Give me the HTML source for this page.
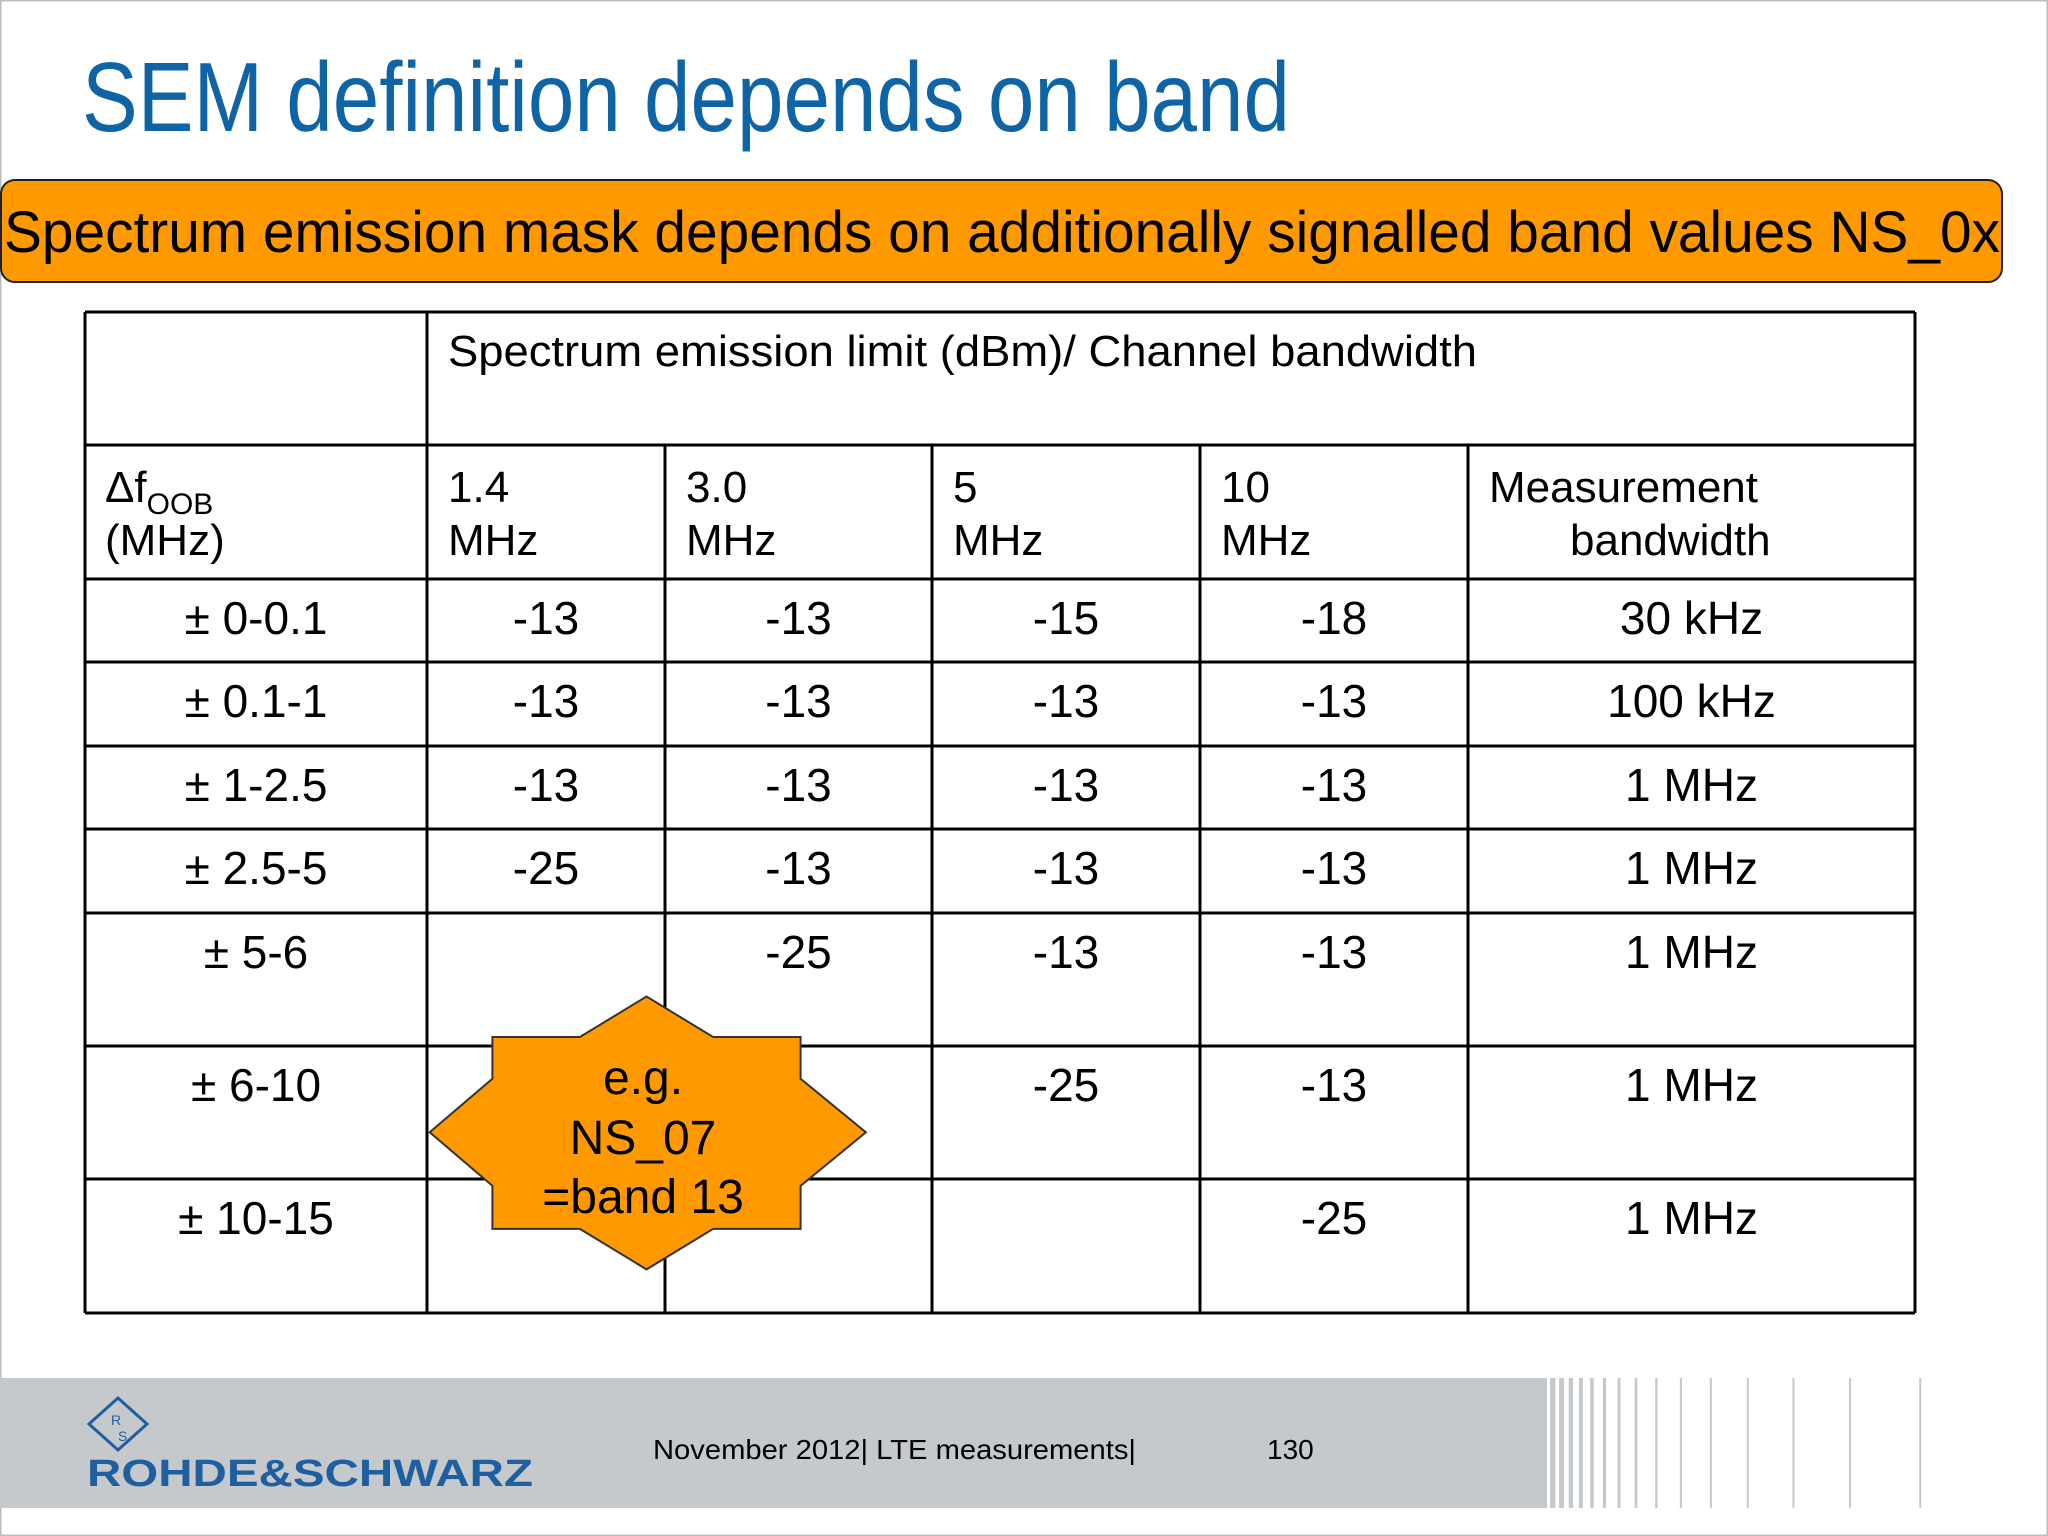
<!DOCTYPE html>
<html><head><meta charset="utf-8"><style>
html,body{margin:0;padding:0;background:#fff}
svg{display:block}
text{font-family:"Liberation Sans",Arial,sans-serif}
</style></head><body>
<svg id="s" width="2048" height="1536" viewBox="0 0 2048 1536" xmlns="http://www.w3.org/2000/svg">
<rect x="0.5" y="0.5" width="2047" height="1535" fill="#fff" stroke="#b8bcbf" stroke-width="2"/>
<text x="82" y="131" font-size="98" fill="#0f64a6" textLength="1208" lengthAdjust="spacingAndGlyphs">SEM definition depends on band</text>
<rect x="1" y="180" width="2001" height="102" rx="14" fill="#ff9900" stroke="#222" stroke-width="2"/>
<text x="4" y="252" font-size="58" fill="#000" textLength="1996" lengthAdjust="spacingAndGlyphs">Spectrum emission mask depends on additionally signalled band values NS_0x</text>
<g id="tbl"></g>
<g id="star"></g>
<rect x="0" y="1378" width="1541" height="130" fill="#c5c9cc"/>
<g id="stripes"></g>
<g>
<polygon points="118,1398 147,1424 118,1450 89,1424" fill="none" stroke="#1f5fa0" stroke-width="3"/>
<text x="111" y="1425" font-size="14" fill="#1f5fa0">R</text>
<text x="118" y="1441" font-size="14" fill="#1f5fa0">S</text>
<text x="87" y="1486" font-size="38" font-weight="bold" fill="#1f5fa0" textLength="446" lengthAdjust="spacingAndGlyphs">ROHDE&amp;SCHWARZ</text>
</g>
<text x="653" y="1459" font-size="28" fill="#000" textLength="483" lengthAdjust="spacingAndGlyphs">November 2012| LTE measurements|</text>
<text x="1267" y="1459" font-size="28" fill="#000">130</text>
</svg>
<script>
const offsets=["± 0-0.1","± 0.1-1","± 1-2.5","± 2.5-5","± 5-6","± 6-10","± 10-15"];
const bw14=["-13","-13","-13","-25","","",""];
const bw30=["-13","-13","-13","-13","-25","",""];
const bw5=["-15","-13","-13","-13","-13","-25",""];
const bw10=["-18","-13","-13","-13","-13","-13","-25"];
const measBw=["30 kHz","100 kHz","1 MHz","1 MHz","1 MHz","1 MHz","1 MHz"];
const NS="http://www.w3.org/2000/svg";
const cols=[85,427,665,932,1200,1468,1915];
const rows=[312,445,579,662,746,829,913,1046,1179,1313];
const g=document.getElementById('tbl');
function T(x,y,s,anchor,name,size){const t=document.createElementNS(NS,'text');t.setAttribute('x',x);t.setAttribute('y',y);t.setAttribute('font-size',size||46);t.setAttribute('text-anchor',anchor||'start');t.textContent=s;


g.appendChild(t);return t;}
function L(x1,y1,x2,y2){const l=document.createElementNS(NS,'line');l.setAttribute('x1',x1);l.setAttribute('y1',y1);l.setAttribute('x2',x2);l.setAttribute('y2',y2);l.setAttribute('stroke','#000');l.setAttribute('stroke-width',3);


g.appendChild(l);}
// horizontal rules
rows.forEach(y=>L(cols[0],y,cols[6],y));
L(cols[0],rows[0],cols[0],rows[9]);L(cols[1],rows[0],cols[1],rows[9]);L(cols[6],rows[0],cols[6],rows[9]);
for(let i=2;i<6;i++)L(cols[i],rows[1],cols[i],rows[9]);
const h=T(448,366,"Spectrum emission limit (dBm)/ Channel bandwidth",'start','header-title',44);h.setAttribute('textLength',1029);h.setAttribute('lengthAdjust','spacingAndGlyphs');
const d=T(105,502,"Δf",'start','offset-header',44);
const sub=document.createElementNS(NS,'tspan');sub.setAttribute('font-size',30);sub.setAttribute('dy',12);sub.textContent="OOB";d.appendChild(sub);
T(105,555,"(MHz)",'start','offset-header-unit',44);
const heads=[["1.4","MHz"],["3.0","MHz"],["5","MHz"],["10","MHz"]];
heads.forEach((hh,i)=>{T(cols[i+1]+21,502,hh[0],'start','bw-header',44);T(cols[i+1]+21,555,hh[1],'start','bw-header',44);});
T(1489,502,"Measurement",'start','meas-header',44);T(1570,555,"bandwidth",'start','meas-header',44);
const series=[bw14,bw30,bw5,bw10];
offsets.forEach((o,r)=>{const y=rows[r+2]+55;
T((cols[0]+cols[1])/2,y,o,'middle','offset-cell');
series.forEach((s,c)=>{if(s[r])T((cols[c+1]+cols[c+2])/2,y,s[r],'middle','limit-cell');});
T((cols[5]+cols[6])/2,y,measBw[r],'middle','meas-bw-cell');});
// starburst
const sg=document.getElementById('star');
const pts=[[495,763],[546,794],[613,794],[613,826],[663,867],[613,908],[613,941],[546,941],[495,972],[444,941],[377,941],[377,908],[329,867],[377,826],[377,794],[444,794]];
const p=document.createElementNS(NS,'polygon');p.setAttribute('points',pts.map(q=>(q[0]*1.306).toFixed(1)+','+(q[1]*1.306).toFixed(1)).join(' '));p.setAttribute('fill','#ff9900');p.setAttribute('stroke','#333');p.setAttribute('stroke-width',2);


sg.appendChild(p);
[["e.g.",1094],["NS_07",1154],["=band 13",1213]].forEach(a=>{const t=document.createElementNS(NS,'text');t.setAttribute('x',643);t.setAttribute('y',a[1]);t.setAttribute('font-size',48);t.setAttribute('text-anchor','middle');t.textContent=a[0];


sg.appendChild(t);});
// footer stripes
const st=document.getElementById('stripes');
let x=1541,w=6,gap=3;
while(x<1990){const r=document.createElementNS(NS,'rect');r.setAttribute('x',x);r.setAttribute('y',1378);r.setAttribute('width',w);r.setAttribute('height',130);r.setAttribute('fill','#c5c9cc');


st.appendChild(r);x+=w+gap;gap*=1.25;w=Math.max(2,w*0.9);}
</script>
</body></html>
